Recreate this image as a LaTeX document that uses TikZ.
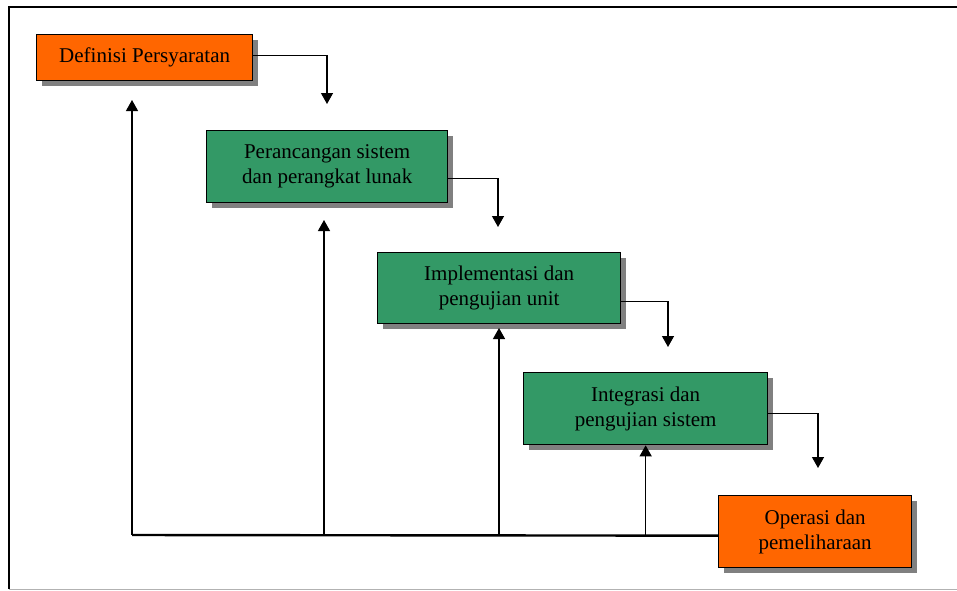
\documentclass[tikz,border=0pt]{standalone}
\usepackage{fontspec}
\setmainfont{Liberation Serif}
\usetikzlibrary{positioning,arrows.meta,shadows}
\definecolor{stageorange}{HTML}{FF6600}
\definecolor{stagegreen}{HTML}{339966}

\begin{document}
\begin{tikzpicture}[x=1pt,y=-1pt,
  stagebox/.style={draw=black,line width=1.3pt,anchor=north west,align=center,inner sep=0pt,
    font=\fontsize{21}{25}\selectfont,
    drop shadow={shadow xshift=5pt,shadow yshift=-5pt,fill=black!50,opacity=1}},
  flow/.style={line width=1.3pt,-{Triangle[width=12pt,length=11pt]}}]
\useasboundingbox (0,0) rectangle (957,590);

% frame
\draw[line width=1.5pt] (9,589) -- (9,7) -- (957,7);
\draw[black!30,line width=1pt] (9,589) -- (957,589);

% stages
\node[stagebox,fill=stageorange,minimum width=216pt,minimum height=46pt] (defreq) at (36,34) {Definisi Persyaratan};
\node[stagebox,fill=stagegreen,minimum width=241pt,minimum height=72pt] (design) at (206,130) {Perancangan sistem\\dan perangkat lunak};
\node[stagebox,fill=stagegreen,minimum width=243pt,minimum height=71pt] (impl) at (377,252) {Implementasi dan\\pengujian unit};
\node[stagebox,fill=stagegreen,minimum width=244pt,minimum height=72pt] (integ) at (523,372) {Integrasi dan\\pengujian sistem};
\node[stagebox,fill=stageorange,minimum width=193pt,minimum height=72pt] (ops) at (718,495) {Operasi dan\\pemeliharaan};

% downward flow
\coordinate (down1) at (327,104);
\coordinate (down2) at (498,227);
\coordinate (down3) at (668,347);
\coordinate (down4) at (818,468);
\draw[flow] ([yshift=2pt]defreq.east) -| (down1);
\draw[flow] ([yshift=-12pt]design.east) -| (down2);
\draw[flow] ([yshift=-13pt]impl.east) -| (down3);
\draw[flow] ([yshift=-5pt]integ.east) -| (down4);

% feedback
\coordinate (base) at (132,535);
\draw[line width=2.4pt] (base) -- ([yshift=-4pt]ops.west);
\foreach \x/\y [count=\i] in {132/100,324/220,499/328}{
  \coordinate (foot\i) at (\x,535);
  \coordinate (tip\i) at (\x,\y);
  \draw[flow] (foot\i) -- (tip\i);
}
\coordinate (foot4) at (integ.south |- base);
\draw[flow] (foot4) -- (integ.south);
\end{tikzpicture}
\end{document}
